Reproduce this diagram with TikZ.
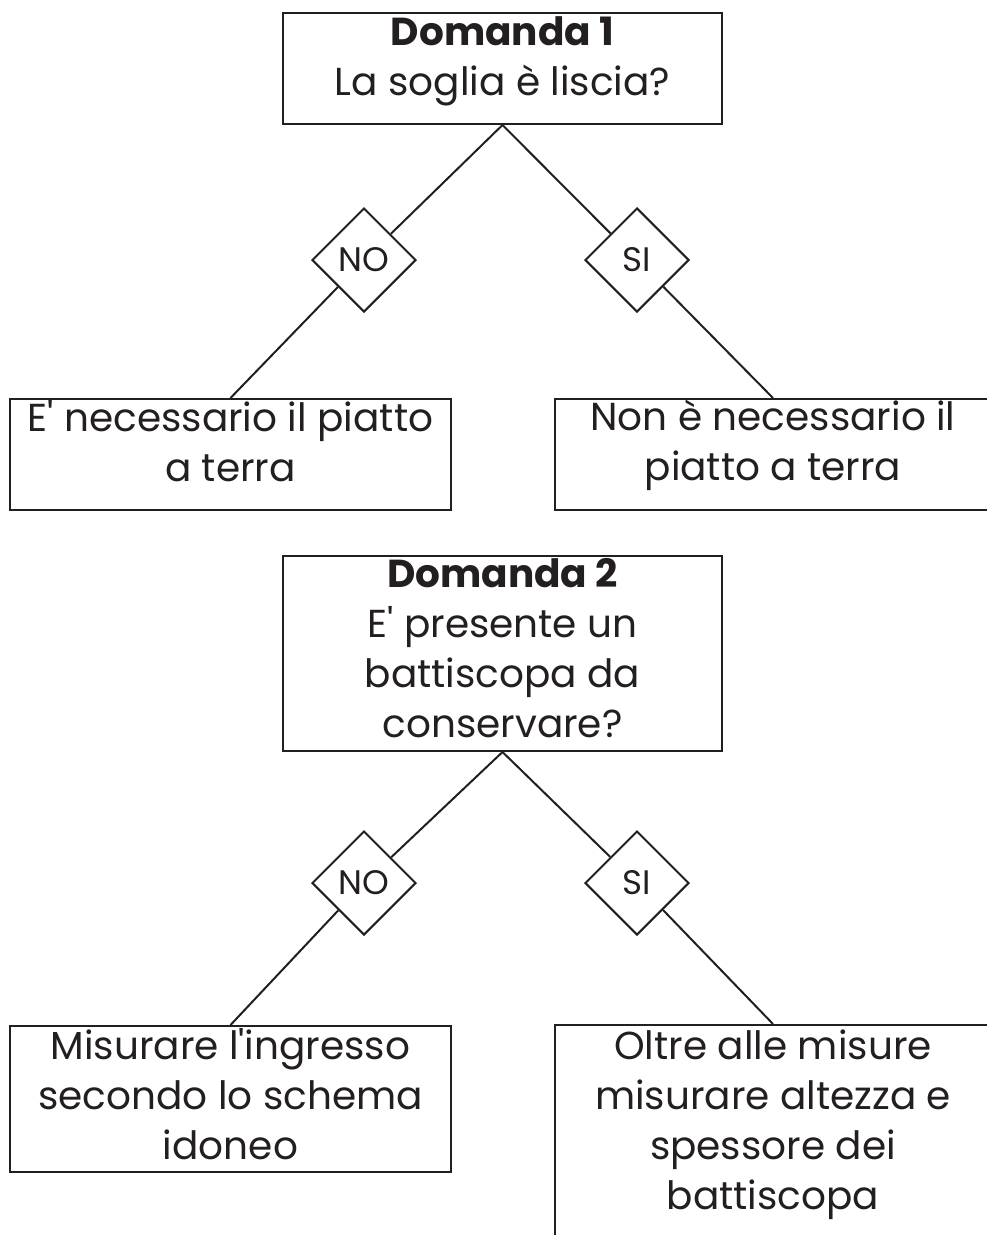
\documentclass[tikz,border=0pt]{standalone}
\usepackage{fontspec}
\setmainfont{Poppins}
\usepackage{tikz}
\usetikzlibrary{shapes,positioning}
\definecolor{ink}{HTML}{231F20}
\tikzstyle{box} = [rectangle, draw=ink, line width=2pt, inner sep=0pt]
\tikzstyle{reply} = [diamond, draw=ink, line width=2pt, aspect=1, minimum width=104pt, minimum height=104pt, inner sep=0pt, text=ink, font=\fontsize{34}{40}\selectfont]
\tikzstyle{txt} = [align=center, inner sep=0pt, text=ink, font=\fontsize{39}{50}\selectfont]
\tikzstyle{branch} = [draw=ink, line width=2pt]

\begin{document}
\begin{tikzpicture}[x=1pt,y=-1pt]
\useasboundingbox (0,0) rectangle (987,1235);
\clip (0,0) rectangle (987,1235);

% Domanda 1
\node[box, minimum width=439pt, minimum height=111pt] (q1) at (502.5,68.5) {};
\node[txt] (q1-text) at ([yshift=7pt]q1.center) {\textbf{Domanda 1}\\La soglia è liscia?};
\node[reply] (q1-no) at (364,260) {NO};
\node[reply] (q1-si) at (637,260) {SI};
\node[box, minimum width=441pt, minimum height=111pt] (a1-no) at (230.5,454.5) {};
\node[txt] (a1-no-text) at ([yshift=13pt]a1-no.center) {E\textquotesingle{} necessario il piatto\\a terra};
\node[box, minimum width=436pt, minimum height=111pt] (a1-si) at (773,454.5) {};
\node[txt] (a1-si-text) at ([yshift=9pt]a1-si.center) {Non è necessario il\\piatto a terra};

\draw[branch] (q1.south) -- (q1-no) -- (a1-no.north);
\draw[branch] (q1.south) -- (q1-si) -- (a1-si.north);

% Domanda 2
\node[box, minimum width=439pt, minimum height=195pt] (q2) at (502.5,653.5) {};
\node[txt] (q2-text) at ([yshift=5pt]q2.center) {\textbf{Domanda 2}\\E\textquotesingle{} presente un\\battiscopa da\\conservare?};
\node[reply] (q2-no) at (364,883) {NO};
\node[reply] (q2-si) at (637,883) {SI};
\node[box, minimum width=441pt, minimum height=146pt] (a2-no) at (230.5,1099) {};
\node[txt] (a2-no-text) at ([yshift=5pt]a2-no.center) {Misurare l\textquotesingle{}ingresso\\secondo lo schema\\idoneo};
% runs off the bottom of the page
\node[box, minimum width=436pt, minimum height=220pt] (a2-si) at (773,1135) {};
\node[txt] (a2-si-text) at ([yshift=10pt]a2-si.center) {Oltre alle misure\\misurare altezza e\\spessore dei\\battiscopa};

\draw[branch] (q2.south) -- (q2-no) -- (a2-no.north);
\draw[branch] (q2.south) -- (q2-si) -- (a2-si.north);
\end{tikzpicture}
\end{document}
